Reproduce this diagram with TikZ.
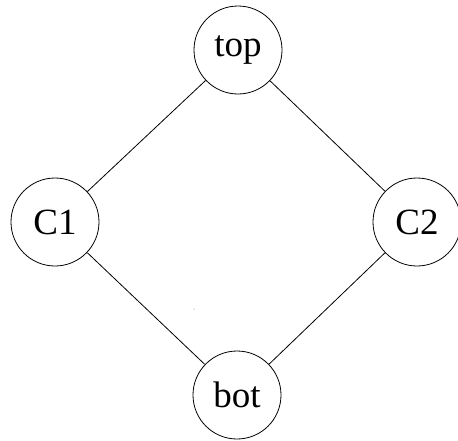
\documentclass[tikz,border=0pt]{standalone}
\usepackage{fontspec}
\setmainfont{Liberation Serif}
\begin{document}
\begin{tikzpicture}[x=1pt,y=-1pt,
  vtx/.style={draw,circle,line width=0.8pt,minimum size=88pt,inner sep=0pt,font=\fontsize{37}{41}\selectfont},
  edge/.style={line width=0.8pt}]
\useasboundingbox (0,0) rectangle (458,440);
\node[vtx] (top) at (238,50) {top};
\node[vtx] (c1) at (55,222) {C1};
\node[vtx] (c2) at (417,222) {C2};
\node[vtx] (bot) at (237,395) {bot};
\draw[edge] (top) -- (c1);
\draw[edge] (top) -- (c2);
\draw[edge] (c1) -- (bot);
\draw[edge] (c2) -- (bot);
\coordinate (dot) at (194,309);
\fill[black!60] (dot) circle (0.5pt);
\end{tikzpicture}
\end{document}
